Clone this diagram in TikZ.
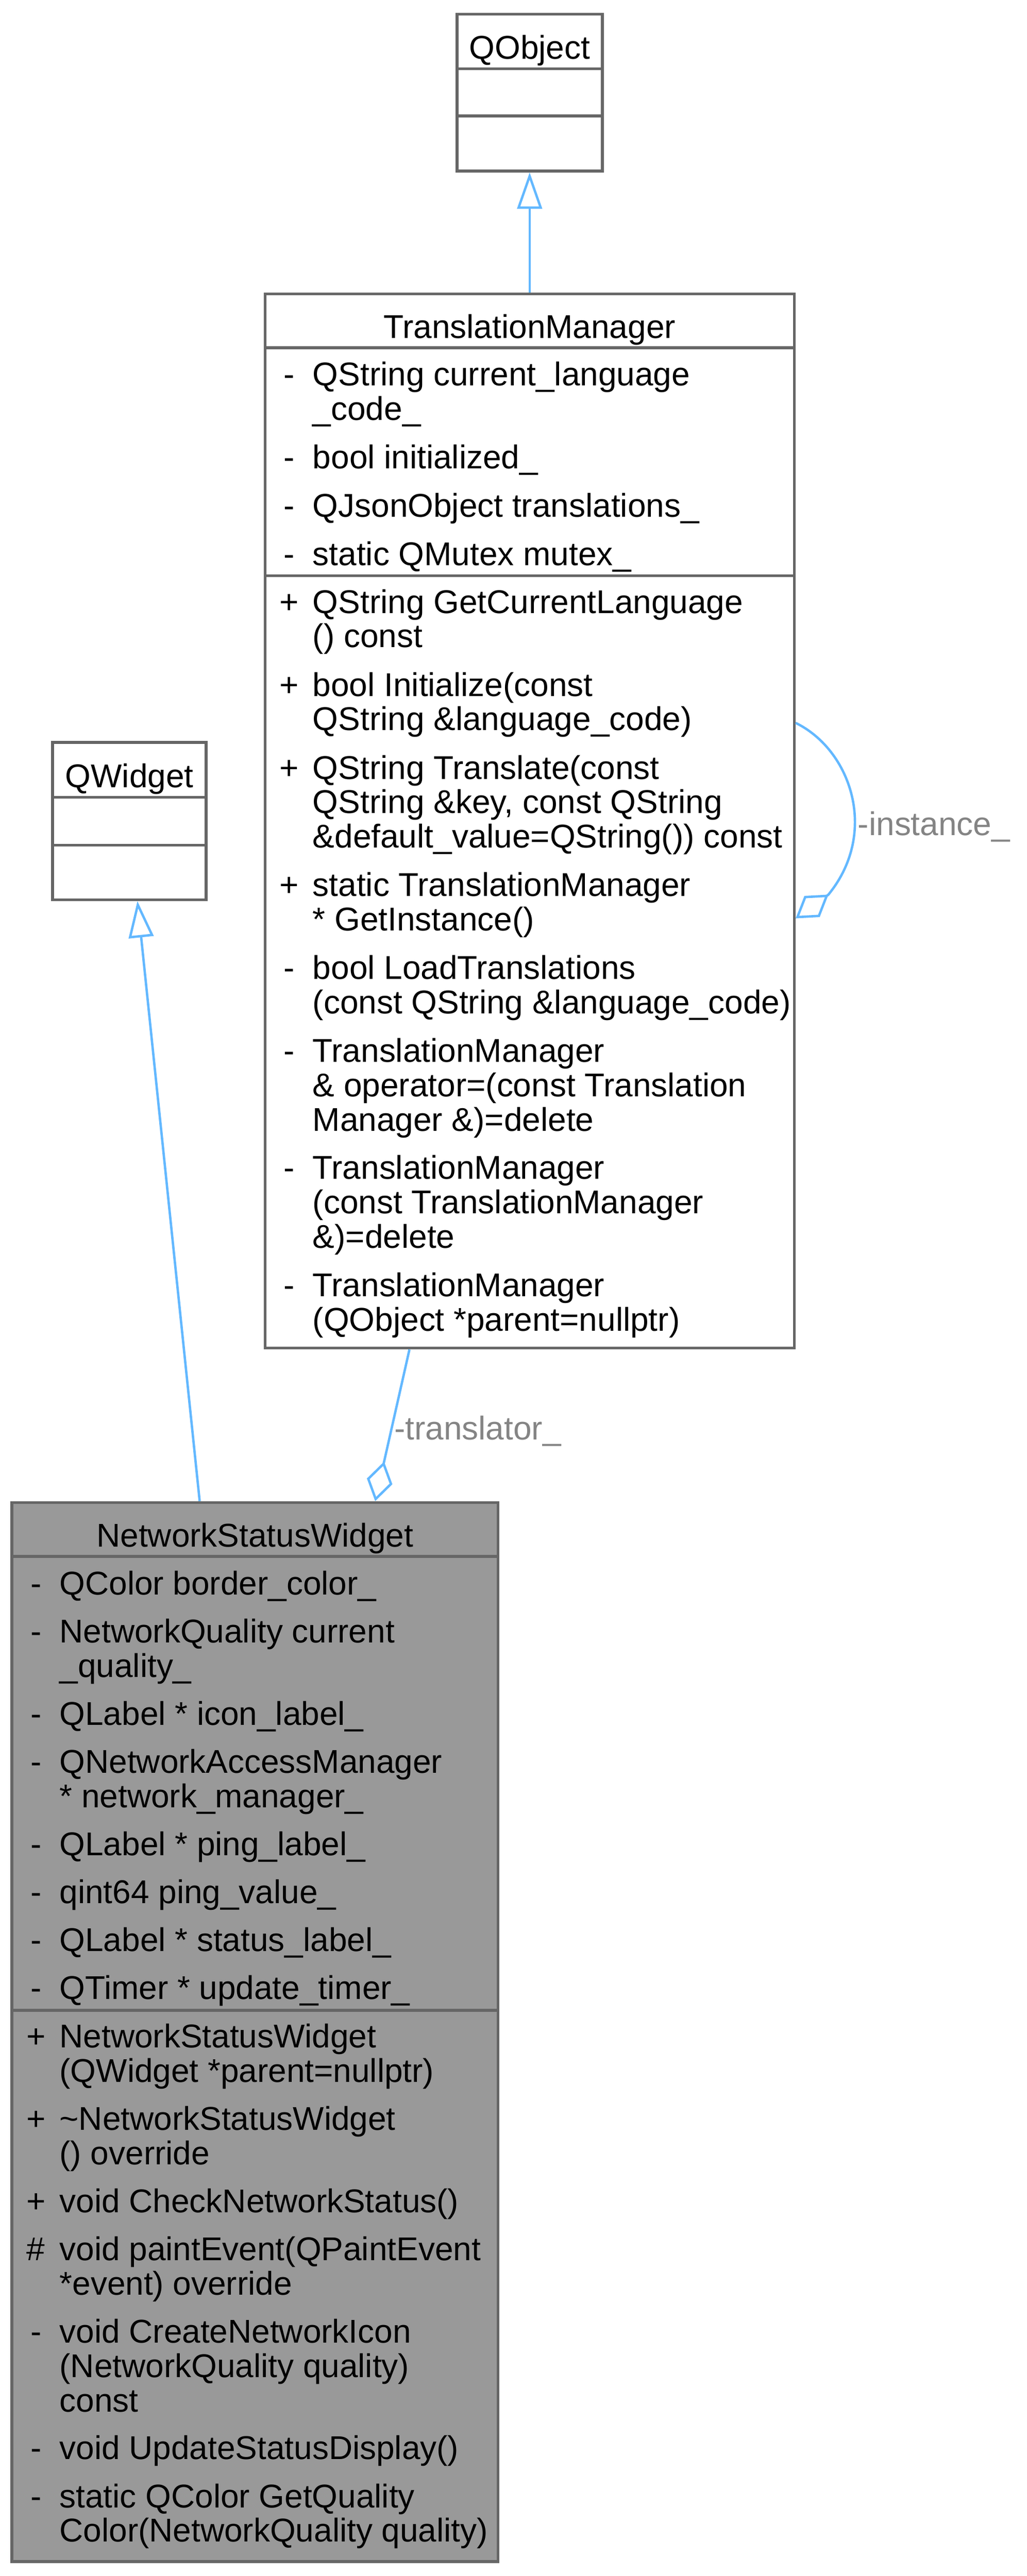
\documentclass[tikz,border=0pt]{standalone}
\usepackage{fontspec}
\setmainfont{Liberation Sans}
\usetikzlibrary{arrows.meta}

\definecolor{edgeblue}{HTML}{63B8FF}
\definecolor{boxgray}{HTML}{666666}
\definecolor{nswfill}{HTML}{999999}
\definecolor{labelgray}{HTML}{848484}

% one member row: visibility mark, then the (wrapped) text
\newcommand{\mbr}[2]{\makebox[28.6pt][c]{#1}\parbox[t]{330pt}{#2}}

\tikzset{
    classbox/.style = {draw = boxgray, line width = 1.7pt, inner sep = 0pt},
    sepline/.style = {draw = boxgray, line width = 1.7pt},
    title/.style = {anchor = base, inner sep = 0pt},
    member/.style = {anchor = base west, inner sep = 0pt},
    edgelabel/.style = {anchor = base west, inner sep = 0pt, text = labelgray},
    inherit/.style = {draw = edgeblue, line width = 1.45pt, -{Triangle[open, length = 22pt, width = 15pt]}},
    aggr/.style = {draw = edgeblue, line width = 1.45pt, -{Diamond[open, length = 24.5pt, width = 15.8pt]}}
}

\begin{document}
\begin{tikzpicture}[x = 1pt, y = -1pt, font = \fontsize{19.9}{20.8}\selectfont]
\useasboundingbox (0,0) rectangle (620,1556.2);

% class boxes
\node[classbox, minimum width = 87.8pt, minimum height = 94.8pt] (qobject) at (319.9,55.9) {};
\node[classbox, minimum width = 319.6pt, minimum height = 636.9pt] (tm) at (319.9,495.95) {};
\node[classbox, minimum width = 92.7pt, minimum height = 95pt] (qwidget) at (78.15,496) {};
\node[classbox, fill = nswfill, minimum width = 293.6pt, minimum height = 639.8pt] (nsw) at (154,1227.6) {};

% separators
\draw[sepline] (qobject.west |- 0,41.6) -- (qobject.east |- 0,41.6);
\draw[sepline] (qobject.west |- 0,70) -- (qobject.east |- 0,70);
\draw[sepline] (tm.west |- 0,210.1) -- (tm.east |- 0,210.1);
\draw[sepline] (tm.west |- 0,347.8) -- (tm.east |- 0,347.8);
\draw[sepline] (qwidget.west |- 0,481.7) -- (qwidget.east |- 0,481.7);
\draw[sepline] (qwidget.west |- 0,510.5) -- (qwidget.east |- 0,510.5);
\draw[sepline] (nsw.west |- 0,940.3) -- (nsw.east |- 0,940.3);
\draw[sepline] (nsw.west |- 0,1214.4) -- (nsw.east |- 0,1214.4);

% titles
\node[title] (qobjectname) at (319.9,35.6) {QObject};
\node[title] (tmname) at (319.9,204.4) {TranslationManager};
\node[title] (qwidgetname) at (78.15,475.7) {QWidget};
\node[title] (nswname) at (154,934.6) {NetworkStatusWidget};

% TranslationManager members
\node[member] (tmattr1) at (160.1,233.1) {\mbr{-}{QString current\_language\\\_code\_}};
\node[member] (tmattr2) at (160.1,283.1) {\mbr{-}{bool initialized\_}};
\node[member] (tmattr3) at (160.1,312.3) {\mbr{-}{QJsonObject translations\_}};
\node[member] (tmattr4) at (160.1,341.5) {\mbr{-}{static QMutex mutex\_}};
\node[member] (tmop1) at (160.1,370.4) {\mbr{+}{QString GetCurrentLanguage\\() const}};
\node[member] (tmop2) at (160.1,420.5) {\mbr{+}{bool Initialize(const\\QString \&language\_code)}};
\node[member] (tmop3) at (160.1,470.6) {\mbr{+}{QString Translate(const\\QString \&key, const QString\\\&default\_value=QString()) const}};
\node[member] (tmop4) at (160.1,541.4) {\mbr{+}{static TranslationManager\\{}* GetInstance()}};
\node[member] (tmop5) at (160.1,591.5) {\mbr{-}{bool LoadTranslations\\(const QString \&language\_code)}};
\node[member] (tmop6) at (160.1,641.6) {\mbr{-}{TranslationManager\\\& operator=(const Translation\\Manager \&)=delete}};
\node[member] (tmop7) at (160.1,712.4) {\mbr{-}{TranslationManager\\(const TranslationManager\\\&)=delete}};
\node[member] (tmop8) at (160.1,783.2) {\mbr{-}{TranslationManager\\(QObject *parent=nullptr)}};

% NetworkStatusWidget members
\node[member] (nswattr1) at (7.2,963.3) {\mbr{-}{QColor border\_color\_}};
\node[member] (nswattr2) at (7.2,992.3) {\mbr{-}{NetworkQuality current\\\_quality\_}};
\node[member] (nswattr3) at (7.2,1042.1) {\mbr{-}{QLabel * icon\_label\_}};
\node[member] (nswattr4) at (7.2,1071.1) {\mbr{-}{QNetworkAccessManager\\{}* network\_manager\_}};
\node[member] (nswattr5) at (7.2,1120.9) {\mbr{-}{QLabel * ping\_label\_}};
\node[member] (nswattr6) at (7.2,1149.9) {\mbr{-}{qint64 ping\_value\_}};
\node[member] (nswattr7) at (7.2,1178.9) {\mbr{-}{QLabel * status\_label\_}};
\node[member] (nswattr8) at (7.2,1207.9) {\mbr{-}{QTimer * update\_timer\_}};
\node[member] (nswop1) at (7.2,1237) {\mbr{+}{NetworkStatusWidget\\(QWidget *parent=nullptr)}};
\node[member] (nswop2) at (7.2,1286.8) {\mbr{+}{\textasciitilde NetworkStatusWidget\\() override}};
\node[member] (nswop3) at (7.2,1336.6) {\mbr{+}{void CheckNetworkStatus()}};
\node[member] (nswop4) at (7.2,1365.6) {\mbr{\#}{void paintEvent(QPaintEvent\\{}*event) override}};
\node[member] (nswop5) at (7.2,1415.4) {\mbr{-}{void CreateNetworkIcon\\(NetworkQuality quality)\\const}};
\node[member] (nswop6) at (7.2,1485.8) {\mbr{-}{void UpdateStatusDisplay()}};
\node[member] (nswop7) at (7.2,1514.8) {\mbr{-}{static QColor GetQuality\\Color(NetworkQuality quality)}};

% edges
\draw[inherit] (tm.north) -- (qobject.south);
\draw[inherit] ([xshift = -33.4pt]nsw.north) -- ([xshift = 4.85pt]qwidget.south);
\draw[aggr] ([xshift = -72.6pt]tm.south) -- ([xshift = 72.6pt]nsw.north);
\draw[aggr] ([yshift = 59.25pt]tm.east) .. controls (514,453) and (531,503) .. (500.3,540.5) -- ([yshift = -58.85pt]tm.east);

% edge labels
\node[edgelabel] (translatorlbl) at (238,869.8) {-translator\_};
\node[edgelabel] (instancelbl) at (518,504.7) {-instance\_};

\end{tikzpicture}
\end{document}
